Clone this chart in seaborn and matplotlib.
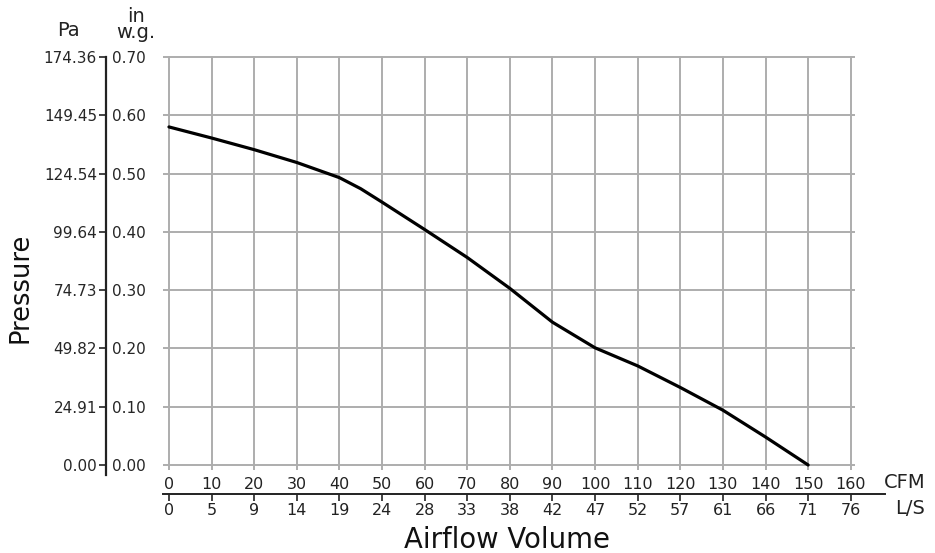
import matplotlib
matplotlib.use("Agg")
import matplotlib.pyplot as plt
import seaborn as sns
import pandas as pd

# ---- data ----
cfm = [0, 10, 20, 30, 40, 45, 50, 60, 70, 80, 90, 100, 110, 120, 130, 140, 150]
pressure_inwg = [0.580, 0.561, 0.541, 0.519, 0.493, 0.474, 0.451, 0.404, 0.356, 0.303,
                 0.245, 0.201, 0.170, 0.133, 0.094, 0.048, 0.0]

cfm_ticks = [0, 10, 20, 30, 40, 50, 60, 70, 80, 90, 100, 110, 120, 130, 140, 150, 160]
ls_labels = ["0", "5", "9", "14", "19", "24", "28", "33", "38", "42", "47", "52",
             "57", "61", "66", "71", "76"]
inwg_ticks = [0.0, 0.1, 0.2, 0.3, 0.4, 0.5, 0.6, 0.7]
inwg_labels = ["0.00", "0.10", "0.20", "0.30", "0.40", "0.50", "0.60", "0.70"]
pa_labels = ["0.00", "24.91", "49.82", "74.73", "99.64", "124.54", "149.45", "174.36"]

sns.set_theme(style="white")
plt.rcParams["font.family"] = ["DejaVu Sans"]

TXT = "#222222"
TICK_FS = 11.5
W, H = 935, 553
fig = plt.figure(figsize=(W / 100, H / 100), dpi=100)

# axes in pixel coordinates
left_px, right_px, top_px, bottom_px = 163, 855, 56, 470
ax = fig.add_axes([left_px / W, 1 - bottom_px / H, (right_px - left_px) / W,
                   (bottom_px - top_px) / H])

df = pd.DataFrame({"CFM": cfm, "inwg": pressure_inwg})
sns.lineplot(data=df, x="CFM", y="inwg", ax=ax, color="black", linewidth=2.3)

ax.set_xlim(-1.4, 161.0)
ax.set_ylim(-0.0086, 0.7017)
ax.set_xticks(cfm_ticks)
ax.set_xticklabels([str(v) for v in cfm_ticks], fontsize=TICK_FS, color=TXT)
ax.set_yticks(inwg_ticks)
ax.set_yticklabels(pa_labels, fontsize=TICK_FS, color=TXT)
ax.grid(True, color="#adadad", linewidth=1.4)
ax.set_axisbelow(True)
for s in ["top", "right", "bottom"]:
    ax.spines[s].set_visible(False)
ax.set_xlabel("")
ax.set_ylabel("")

# left axis line (Pa)
ax.spines["left"].set_position(("outward", (left_px - 106) * 0.72))
ax.spines["left"].set_color(TXT)
ax.spines["left"].set_linewidth(1.6)
ax.spines["left"].set_bounds(-0.0175, 0.70)
ax.tick_params(axis="y", which="major", direction="out", length=5, width=1.2,
               color=TXT, pad=1.5, left=True, labelleft=True)
ax.tick_params(axis="x", length=0, pad=5)

# in.w.g. labels on right side of the same line
ax2 = ax.twinx()
ax2.set_ylim(ax.get_ylim())
ax2.set_yticks(inwg_ticks)
ax2.set_yticklabels(inwg_labels, fontsize=TICK_FS, color=TXT)
for s in ax2.spines.values():
    s.set_visible(False)
ax2.spines["right"].set_position(("axes", (106 - left_px) / (right_px - left_px)))
ax2.tick_params(axis="y", right=True, left=False, labelright=True, labelleft=False,
                length=0, pad=4.5)
ax2.grid(False)

# L/S axis
ax3 = ax.twiny()
ax3.set_xlim(ax.get_xlim())
for s in ["top", "right", "left"]:
    ax3.spines[s].set_visible(False)
ax3.spines["bottom"].set_visible(True)
ax3.spines["bottom"].set_position(("outward", (494 - bottom_px) * 0.72))
ax3.spines["bottom"].set_color(TXT)
ax3.spines["bottom"].set_linewidth(1.4)
ax3.spines["bottom"].set_bounds(-1.4, 168.0)
ax3.xaxis.set_ticks_position("bottom")
ax3.xaxis.set_label_position("bottom")
ax3.set_xticks(cfm_ticks)
ax3.set_xticklabels(ls_labels, fontsize=TICK_FS, color=TXT)
ax3.tick_params(axis="x", direction="out", length=5, width=1.2, color=TXT, pad=1.5,
                bottom=True, top=False, labelbottom=True, labeltop=False)
ax3.grid(False)

# text labels
fig.text(884 / W, 1 - 482 / H, "CFM", fontsize=14, color=TXT, va="center", ha="left")
fig.text(895 / W, 1 - 509 / H, "L/S", fontsize=14, color=TXT, va="center", ha="left")
fig.text(507 / W, 1 - 540 / H, "Airflow Volume", fontsize=19.8, color="#111111",
         va="center", ha="center")
fig.text(21 / W, 1 - 288 / H, "Pressure", fontsize=18.5, color="#111111",
         va="center", ha="center", rotation=90)
fig.text(68 / W, 1 - 31 / H, "Pa", fontsize=14, color=TXT, va="center", ha="center")
fig.text(136 / W, 1 - 25 / H, "in\nw.g.", fontsize=14, color=TXT, va="center",
         ha="center", linespacing=0.8)

fig.savefig("out.png", dpi=100)
